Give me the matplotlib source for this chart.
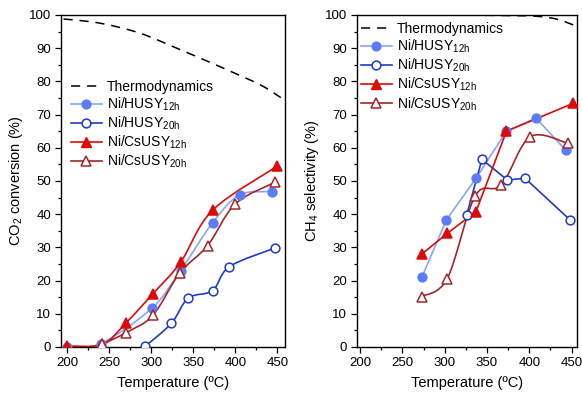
import numpy as np
import matplotlib
matplotlib.use("Agg")
import matplotlib.pyplot as plt
from matplotlib.path import Path
from matplotlib.patches import PathPatch
from matplotlib.lines import Line2D
from matplotlib.ticker import MultipleLocator

plt.rcParams['font.family'] = ['Liberation Sans', 'DejaVu Sans']
plt.rcParams['mathtext.fontset'] = 'custom'
plt.rcParams['mathtext.rm'] = 'Liberation Sans'
plt.rcParams['mathtext.it'] = 'Liberation Sans'

# ---------------- data: CO2 conversion (left) ----------------
thermo_conv_T = [196, 240, 287, 335, 382, 430, 454]
thermo_conv_v = [98.8, 97.5, 94.5, 89.5, 84.4, 78.9, 75.1]

husy12_conv_T = [200, 240, 301, 335, 373, 405, 443]
husy12_conv_v = [0.0, 1.0, 11.7, 23.0, 37.4, 45.8, 46.8]

husy20_conv_T = [293, 324, 344, 373, 393, 447]
husy20_conv_v = [0.2, 7.1, 14.7, 17.0, 24.2, 29.8]

cs12_conv_T = [200, 242, 270, 302, 335, 373, 450]
cs12_conv_v = [0.3, 0.8, 7.2, 16.0, 25.5, 41.2, 54.5]

cs20_conv_T = [242, 270, 302, 334, 367, 400, 447]
cs20_conv_v = [0.8, 4.3, 9.5, 22.3, 30.5, 43.1, 49.6]

# ---------------- data: CH4 selectivity (right) ----------------
thermo_sel_T = [196, 250, 300, 350, 380, 409, 433, 456]
thermo_sel_v = [100.0, 100.0, 100.0, 99.9, 99.8, 99.6, 98.7, 96.6]

husy12_sel_T = [273, 302, 337, 373, 408, 443]
husy12_sel_v = [21.0, 38.3, 50.8, 65.0, 68.9, 59.3]

husy20_sel_T = [326, 344, 374, 395, 448]
husy20_sel_v = [39.8, 56.5, 50.3, 50.8, 38.3]

cs12_sel_T = [273, 303, 337, 373, 452]
cs12_sel_v = [28.0, 34.2, 40.8, 65.0, 73.4]

cs20_sel_T = [273, 303, 336, 367, 401, 446]
cs20_sel_v = [15.2, 20.6, 45.5, 48.8, 63.3, 61.3]

labels = ['Thermodynamics', 'Ni/HUSY$_{\\mathregular{12h}}$', 'Ni/HUSY$_{\\mathregular{20h}}$',
          'Ni/CsUSY$_{\\mathregular{12h}}$', 'Ni/CsUSY$_{\\mathregular{20h}}$']

C_H12 = '#5b7cf5'
C_H12L = '#8aa4f8'
C_H20 = '#1d3bc4'
C_C12 = '#dd0a0a'
C_C20 = '#a3262a'
DASH = (0, (6, 4.5))
MS_C = 6.3
MS_T = 7.3


def smooth(ax, x, y, **kw):
    pts = np.column_stack([x, y]).astype(float)
    n = len(pts)
    verts = [tuple(pts[0])]
    codes = [Path.MOVETO]
    for i in range(n - 1):
        p0 = pts[i - 1] if i > 0 else pts[i]
        p1 = pts[i]
        p2 = pts[i + 1]
        p3 = pts[i + 2] if i + 2 < n else pts[i + 1]
        c1 = p1 + (p2 - p0) / 6.0
        c2 = p2 - (p3 - p1) / 6.0
        verts += [tuple(c1), tuple(c2), tuple(p2)]
        codes += [Path.CURVE4] * 3
    patch = PathPatch(Path(verts, codes), fill=False, **kw)
    ax.add_patch(patch)


def series(ax, x, y, color, lcolor, marker, filled, curved, ms):
    if curved:
        smooth(ax, x, y, edgecolor=lcolor, lw=1.2, zorder=2)
    else:
        ax.plot(x, y, color=lcolor, lw=1.2, zorder=2)
    ax.plot(x, y, ls='none', marker=marker, ms=ms,
            mfc=color if filled else 'white', mec=color, mew=1.1, zorder=3)


fig = plt.figure(figsize=(5.82, 3.93), dpi=100)
axL = fig.add_axes([0.1048, 0.1171, 0.3849, 0.8448])
axR = fig.add_axes([0.6129, 0.1171, 0.3780, 0.8448])

# left
smooth(axL, thermo_conv_T, thermo_conv_v, edgecolor='black', lw=1.1, ls=DASH, zorder=2)
series(axL, husy12_conv_T, husy12_conv_v, C_H12, C_H12L, 'o', True, True, MS_C)
series(axL, husy20_conv_T, husy20_conv_v, C_H20, C_H20, 'o', False, True, MS_C)
series(axL, cs12_conv_T, cs12_conv_v, C_C12, C_C12, '^', True, True, MS_T)
series(axL, cs20_conv_T, cs20_conv_v, C_C20, C_C20, '^', False, True, MS_T)

# right
smooth(axR, thermo_sel_T, thermo_sel_v, edgecolor='black', lw=1.1, ls=DASH, zorder=2)
series(axR, husy12_sel_T, husy12_sel_v, C_H12, C_H12L, 'o', True, False, MS_C)
series(axR, husy20_sel_T, husy20_sel_v, C_H20, C_H20, 'o', False, False, MS_C)
series(axR, cs12_sel_T, cs12_sel_v, C_C12, C_C12, '^', True, False, MS_T)
series(axR, cs20_sel_T, cs20_sel_v, C_C20, C_C20, '^', False, True, MS_T)

handles = [
    Line2D([], [], color='black', lw=1.1, ls=DASH),
    Line2D([], [], color=C_H12L, lw=1.2, marker='o', ms=MS_C, mfc=C_H12, mec=C_H12),
    Line2D([], [], color=C_H20, lw=1.2, marker='o', ms=MS_C, mfc='white', mec=C_H20, mew=1.1),
    Line2D([], [], color=C_C12, lw=1.2, marker='^', ms=MS_T, mfc=C_C12, mec=C_C12),
    Line2D([], [], color=C_C20, lw=1.2, marker='^', ms=MS_T, mfc='white', mec=C_C20, mew=1.1),
]

for ax, xl, ylab, lpos in [(axL, (193, 459), 'CO$_{\\mathregular{2}}$ conversion (%)', (0.045, 0.805)),
                           (axR, (196, 456), 'CH$_{\\mathregular{4}}$ selectivity (%)', (0.02, 0.978))]:
    ax.set_xlim(*xl)
    ax.set_ylim(0, 100)
    ax.xaxis.set_major_locator(MultipleLocator(50))
    ax.xaxis.set_minor_locator(MultipleLocator(25))
    ax.yaxis.set_major_locator(MultipleLocator(10))
    ax.yaxis.set_minor_locator(MultipleLocator(5))
    ax.tick_params(which='major', direction='out', length=4, width=0.9, labelsize=9.5, pad=3)
    ax.tick_params(which='minor', direction='out', length=2.5, width=0.9)
    for s in ax.spines.values():
        s.set_linewidth(1.0)
    ax.set_xlabel('Temperature (ºC)', fontsize=10.5, labelpad=5)
    ax.set_ylabel(ylab, fontsize=10.5, labelpad=3)
    ax.legend(handles, labels, loc='upper left', bbox_to_anchor=lpos, frameon=False,
              fontsize=10, handlelength=2.2, handletextpad=0.4, labelspacing=0.12,
              borderpad=0, borderaxespad=0)

fig.savefig('out.png', dpi=100)
